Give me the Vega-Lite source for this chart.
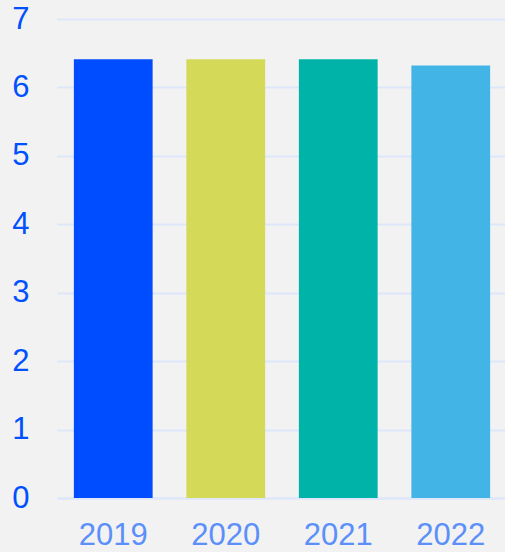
{
  "$schema": "https://vega.github.io/schema/vega-lite/v6.json",
  "autosize": {"type": "none"},
  "padding": {"left": 57, "top": 19, "right": 0, "bottom": 54},
  "width": 450,
  "height": 479,
  "background": "#f2f2f2",
  "config": {"view": {"stroke": null}, "font": "Liberation Sans"},
  "data": {"values": [
    {"year": "2019", "value": 6.41},
    {"year": "2020", "value": 6.41},
    {"year": "2021", "value": 6.41},
    {"year": "2022", "value": 6.32}
  ]},
  "mark": {"type": "bar"},
  "encoding": {
    "x": {"field": "year", "type": "nominal", "sort": null,
      "scale": {"paddingInner": 0.3, "paddingOuter": 0.15},
      "axis": {"title": null, "labelAngle": 0, "ticks": false, "domain": true, "domainColor": "#dde6fb", "domainWidth": 2,
        "labelColor": "#5b8ff9", "labelFontSize": 31, "labelPadding": 22, "labelBaseline": "top", "labelOverlap": false}},
    "y": {"field": "value", "type": "quantitative",
      "scale": {"domain": [0, 7], "nice": false},
      "axis": {"title": null, "values": [0,1,2,3,4,5,6,7], "ticks": false, "domain": false,
        "grid": true, "gridColor": "#dde6fb", "gridWidth": 2, "labelOverlap": false, "labelFlush": false,
        "labelColor": "#0050ff", "labelFontSize": 31, "labelPadding": 28}},
    "color": {"field": "year", "type": "nominal", "legend": null,
      "scale": {"domain": ["2019","2020","2021","2022"], "range": ["#004cff", "#d4d957", "#00b3a8", "#42b5e6"]}}
  }
}
